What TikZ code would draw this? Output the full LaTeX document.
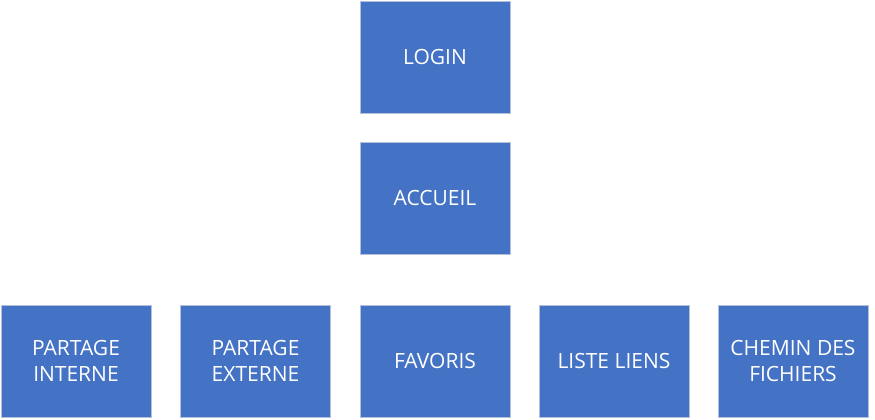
\documentclass[tikz,border=0pt]{standalone}
\usepackage{fontspec}
\setmainfont{Open Sans}
\definecolor{boxblue}{HTML}{4472C4}
\definecolor{boxline}{HTML}{B4C0D8}
\tikzset{
  page/.style={minimum width=150pt,minimum height=112pt,inner sep=0pt,
    fill=boxblue,draw=boxline,line width=0.8pt,text=white,align=center,
    font=\fontsize{21}{26}\selectfont}
}
\begin{document}
\begin{tikzpicture}[x=1pt,y=-1pt]
 \useasboundingbox (0,0) rectangle (875,420);
 \node[page] (login) at (435,57) {LOGIN};
 \node[page] (accueil) at (435,198) {ACCUEIL};
 \node[page] (interne) at (76,361) {PARTAGE\\INTERNE};
 \node[page] (externe) at (255.5,361) {PARTAGE\\EXTERNE};
 \node[page] (favoris) at (435,361) {FAVORIS};
 \node[page] (liens) at (614,361) {LISTE LIENS};
 \node[page] (chemin) at (793,361) {CHEMIN DES\\FICHIERS};
\end{tikzpicture}
\end{document}
